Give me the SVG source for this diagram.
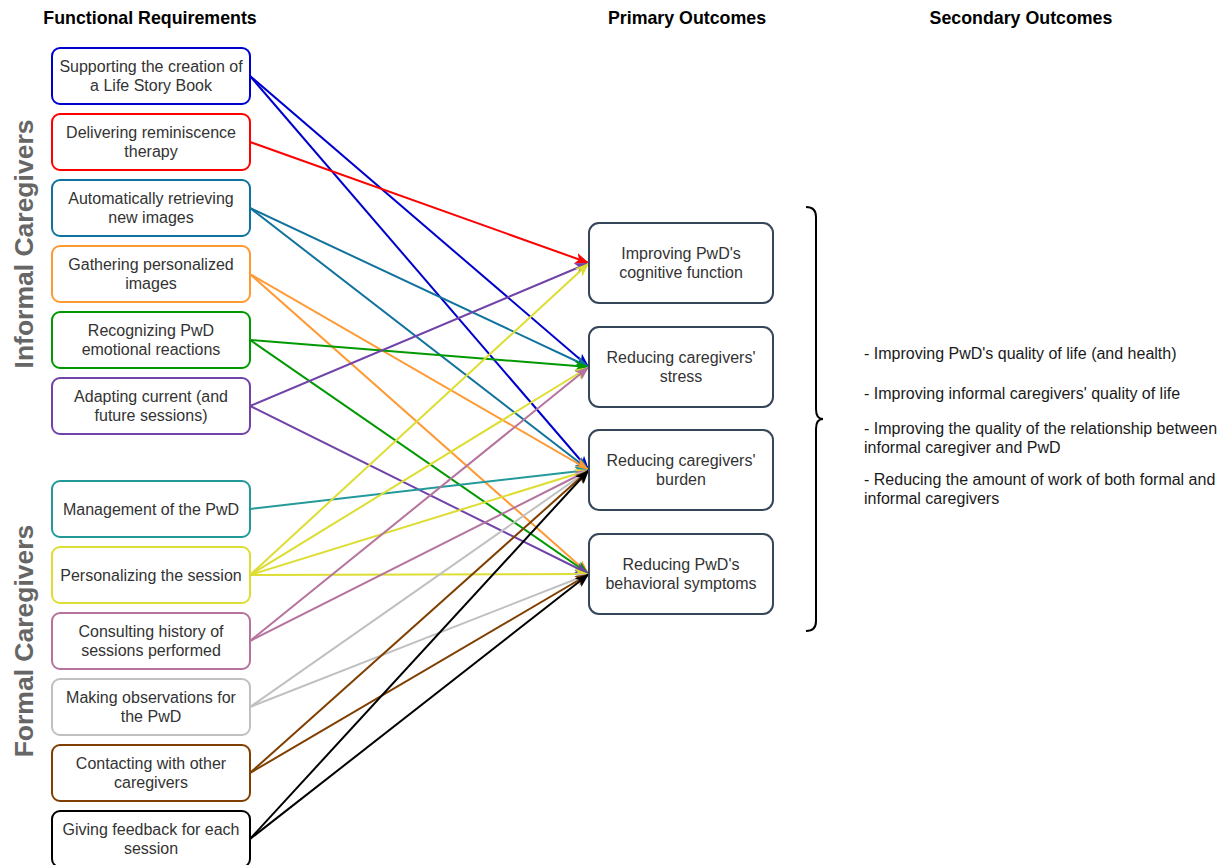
<svg xmlns="http://www.w3.org/2000/svg" width="1226" height="865" viewBox="0 0 1226 865">
<style>
text{font-family:"Liberation Sans",Arial,sans-serif;}
.hd{font-size:17.8px;font-weight:bold;fill:#000;text-anchor:middle;}
.grp{font-size:26.5px;font-weight:bold;fill:#666;text-anchor:middle;}
.bt{font-size:16px;fill:#333;text-anchor:middle;}
.st{font-size:16px;fill:#1a1a1a;}
.fr{fill:#fff;stroke-width:2;}
.po{fill:#fff;stroke:#36465a;stroke-width:2;}
.c line{stroke-width:2;fill:none;}
</style>
<defs>
<marker id="m-blue" markerUnits="userSpaceOnUse" markerWidth="16" markerHeight="12" refX="14" refY="5.5" orient="auto"><path d="M0,0 L14,5.5 L0,11 L3.5,5.5 Z" fill="#0000cc"/></marker>
<marker id="m-red" markerUnits="userSpaceOnUse" markerWidth="16" markerHeight="12" refX="14" refY="5.5" orient="auto"><path d="M0,0 L14,5.5 L0,11 L3.5,5.5 Z" fill="#ff0000"/></marker>
<marker id="m-teal" markerUnits="userSpaceOnUse" markerWidth="16" markerHeight="12" refX="14" refY="5.5" orient="auto"><path d="M0,0 L14,5.5 L0,11 L3.5,5.5 Z" fill="#10739e"/></marker>
<marker id="m-orange" markerUnits="userSpaceOnUse" markerWidth="16" markerHeight="12" refX="14" refY="5.5" orient="auto"><path d="M0,0 L14,5.5 L0,11 L3.5,5.5 Z" fill="#ff9933"/></marker>
<marker id="m-green" markerUnits="userSpaceOnUse" markerWidth="16" markerHeight="12" refX="14" refY="5.5" orient="auto"><path d="M0,0 L14,5.5 L0,11 L3.5,5.5 Z" fill="#009900"/></marker>
<marker id="m-purple" markerUnits="userSpaceOnUse" markerWidth="16" markerHeight="12" refX="14" refY="5.5" orient="auto"><path d="M0,0 L14,5.5 L0,11 L3.5,5.5 Z" fill="#7043a8"/></marker>
<marker id="m-aqua" markerUnits="userSpaceOnUse" markerWidth="16" markerHeight="12" refX="14" refY="5.5" orient="auto"><path d="M0,0 L14,5.5 L0,11 L3.5,5.5 Z" fill="#23999a"/></marker>
<marker id="m-yellow" markerUnits="userSpaceOnUse" markerWidth="16" markerHeight="12" refX="14" refY="5.5" orient="auto"><path d="M0,0 L14,5.5 L0,11 L3.5,5.5 Z" fill="#dddd33"/></marker>
<marker id="m-pink" markerUnits="userSpaceOnUse" markerWidth="16" markerHeight="12" refX="14" refY="5.5" orient="auto"><path d="M0,0 L14,5.5 L0,11 L3.5,5.5 Z" fill="#b5739d"/></marker>
<marker id="m-gray" markerUnits="userSpaceOnUse" markerWidth="16" markerHeight="12" refX="14" refY="5.5" orient="auto"><path d="M0,0 L14,5.5 L0,11 L3.5,5.5 Z" fill="#c0c0c0"/></marker>
<marker id="m-brown" markerUnits="userSpaceOnUse" markerWidth="16" markerHeight="12" refX="14" refY="5.5" orient="auto"><path d="M0,0 L14,5.5 L0,11 L3.5,5.5 Z" fill="#7f3f00"/></marker>
<marker id="m-black" markerUnits="userSpaceOnUse" markerWidth="16" markerHeight="12" refX="14" refY="5.5" orient="auto"><path d="M0,0 L14,5.5 L0,11 L3.5,5.5 Z" fill="#000000"/></marker>
</defs>
<rect width="1226" height="865" fill="#fff"/>

<text class="hd" x="150" y="24">Functional Requirements</text>
<text class="hd" x="687" y="24">Primary Outcomes</text>
<text class="hd" x="1021" y="24">Secondary Outcomes</text>

<text class="grp" transform="translate(33,244) rotate(-90)">Informal Caregivers</text>
<text class="grp" transform="translate(33,641) rotate(-90)">Formal Caregivers</text>

<g id="connectors" class="c">
<line x1="250" y1="76" x2="589" y2="367" stroke="#0000cc" marker-end="url(#m-blue)"/>
<line x1="250" y1="76" x2="589" y2="470" stroke="#0000cc" marker-end="url(#m-blue)"/>
<line x1="250" y1="142" x2="589" y2="263" stroke="#ff0000" marker-end="url(#m-red)"/>
<line x1="250" y1="208" x2="589" y2="367" stroke="#10739e" marker-end="url(#m-teal)"/>
<line x1="250" y1="208" x2="589" y2="470" stroke="#10739e" marker-end="url(#m-teal)"/>
<line x1="250" y1="274" x2="589" y2="470" stroke="#ff9933" marker-end="url(#m-orange)"/>
<line x1="250" y1="274" x2="589" y2="574" stroke="#ff9933" marker-end="url(#m-orange)"/>
<line x1="250" y1="340" x2="589" y2="367" stroke="#009900" marker-end="url(#m-green)"/>
<line x1="250" y1="340" x2="589" y2="574" stroke="#009900" marker-end="url(#m-green)"/>
<line x1="250" y1="406" x2="589" y2="263" stroke="#7043a8" marker-end="url(#m-purple)"/>
<line x1="250" y1="406" x2="589" y2="574" stroke="#7043a8" marker-end="url(#m-purple)"/>
<line x1="250" y1="509" x2="589" y2="470" stroke="#23999a" marker-end="url(#m-aqua)"/>
<line x1="250" y1="575" x2="589" y2="263" stroke="#dddd33" marker-end="url(#m-yellow)"/>
<line x1="250" y1="575" x2="589" y2="367" stroke="#dddd33" marker-end="url(#m-yellow)"/>
<line x1="250" y1="575" x2="589" y2="470" stroke="#dddd33" marker-end="url(#m-yellow)"/>
<line x1="250" y1="575" x2="589" y2="574" stroke="#dddd33" marker-end="url(#m-yellow)"/>
<line x1="250" y1="641" x2="589" y2="367" stroke="#b5739d" marker-end="url(#m-pink)"/>
<line x1="250" y1="641" x2="589" y2="470" stroke="#b5739d" marker-end="url(#m-pink)"/>
<line x1="250" y1="707" x2="589" y2="470" stroke="#c0c0c0" marker-end="url(#m-gray)"/>
<line x1="250" y1="707" x2="589" y2="574" stroke="#c0c0c0" marker-end="url(#m-gray)"/>
<line x1="250" y1="773" x2="589" y2="470" stroke="#7f3f00" marker-end="url(#m-brown)"/>
<line x1="250" y1="773" x2="589" y2="574" stroke="#7f3f00" marker-end="url(#m-brown)"/>
<line x1="250" y1="839" x2="589" y2="470" stroke="#000000" marker-end="url(#m-black)"/>
<line x1="250" y1="839" x2="589" y2="574" stroke="#000000" marker-end="url(#m-black)"/>
</g>

<g id="fr1"><rect class="fr" x="52" y="48" width="198" height="56" rx="8" stroke="#0000cc"/><text class="bt" x="151" y="71.5">Supporting the creation of</text><text class="bt" x="151" y="90.5">a Life Story Book</text></g>
<g id="fr2"><rect class="fr" x="52" y="114" width="198" height="56" rx="8" stroke="#ff0000"/><text class="bt" x="151" y="137.5">Delivering reminiscence</text><text class="bt" x="151" y="156.5">therapy</text></g>
<g id="fr3"><rect class="fr" x="52" y="180" width="198" height="56" rx="8" stroke="#10739e"/><text class="bt" x="151" y="203.5">Automatically retrieving</text><text class="bt" x="151" y="222.5">new images</text></g>
<g id="fr4"><rect class="fr" x="52" y="246" width="198" height="56" rx="8" stroke="#ff9933"/><text class="bt" x="151" y="269.5">Gathering personalized</text><text class="bt" x="151" y="288.5">images</text></g>
<g id="fr5"><rect class="fr" x="52" y="312" width="198" height="56" rx="8" stroke="#009900"/><text class="bt" x="151" y="335.5">Recognizing PwD</text><text class="bt" x="151" y="354.5">emotional reactions</text></g>
<g id="fr6"><rect class="fr" x="52" y="378" width="198" height="56" rx="8" stroke="#7043a8"/><text class="bt" x="151" y="401.5">Adapting current (and</text><text class="bt" x="151" y="420.5">future sessions)</text></g>
<g id="fr7"><rect class="fr" x="52" y="481" width="198" height="56" rx="8" stroke="#23999a"/><text class="bt" x="151" y="514.5">Management of the PwD</text></g>
<g id="fr8"><rect class="fr" x="52" y="547" width="198" height="56" rx="8" stroke="#dddd33"/><text class="bt" x="151" y="580.5">Personalizing the session</text></g>
<g id="fr9"><rect class="fr" x="52" y="613" width="198" height="56" rx="8" stroke="#b5739d"/><text class="bt" x="151" y="636.5">Consulting history of</text><text class="bt" x="151" y="655.5">sessions performed</text></g>
<g id="fr10"><rect class="fr" x="52" y="679" width="198" height="56" rx="8" stroke="#c0c0c0"/><text class="bt" x="151" y="702.5">Making observations for</text><text class="bt" x="151" y="721.5">the PwD</text></g>
<g id="fr11"><rect class="fr" x="52" y="745" width="198" height="56" rx="8" stroke="#7f3f00"/><text class="bt" x="151" y="768.5">Contacting with other</text><text class="bt" x="151" y="787.5">caregivers</text></g>
<g id="fr12"><rect class="fr" x="52" y="811" width="198" height="56" rx="8" stroke="#000000"/><text class="bt" x="151" y="834.5">Giving feedback for each</text><text class="bt" x="151" y="853.5">session</text></g>

<g id="po1"><rect class="po" x="589" y="223" width="184" height="80" rx="10"/><text class="bt" x="681" y="258.5">Improving PwD's</text><text class="bt" x="681" y="277.5">cognitive function</text></g>
<g id="po2"><rect class="po" x="589" y="327" width="184" height="80" rx="10"/><text class="bt" x="681" y="362.5">Reducing caregivers'</text><text class="bt" x="681" y="381.5">stress</text></g>
<g id="po3"><rect class="po" x="589" y="430" width="184" height="80" rx="10"/><text class="bt" x="681" y="465.5">Reducing caregivers'</text><text class="bt" x="681" y="484.5">burden</text></g>
<g id="po4"><rect class="po" x="589" y="534" width="184" height="80" rx="10"/><text class="bt" x="681" y="569.5">Reducing PwD's</text><text class="bt" x="681" y="588.5">behavioral symptoms</text></g>

<g id="brace"><path d="M806,207 Q816,207 816,217 L816,409 Q816,419 823,419 Q816,419 816,429 L816,621 Q816,631 806,631" fill="none" stroke="#000" stroke-width="2"/></g>

<g id="secondary">
<text class="st" x="864" y="358.5">- Improving PwD's quality of life (and health)</text>
<text class="st" x="864" y="399">- Improving informal caregivers' quality of life</text>
<text class="st" x="864" y="433.5">- Improving the quality of the relationship between</text>
<text class="st" x="864" y="452.5">informal caregiver and PwD</text>
<text class="st" x="864" y="485">- Reducing the amount of work of both formal and</text>
<text class="st" x="864" y="504">informal caregivers</text>
</g>
</svg>
